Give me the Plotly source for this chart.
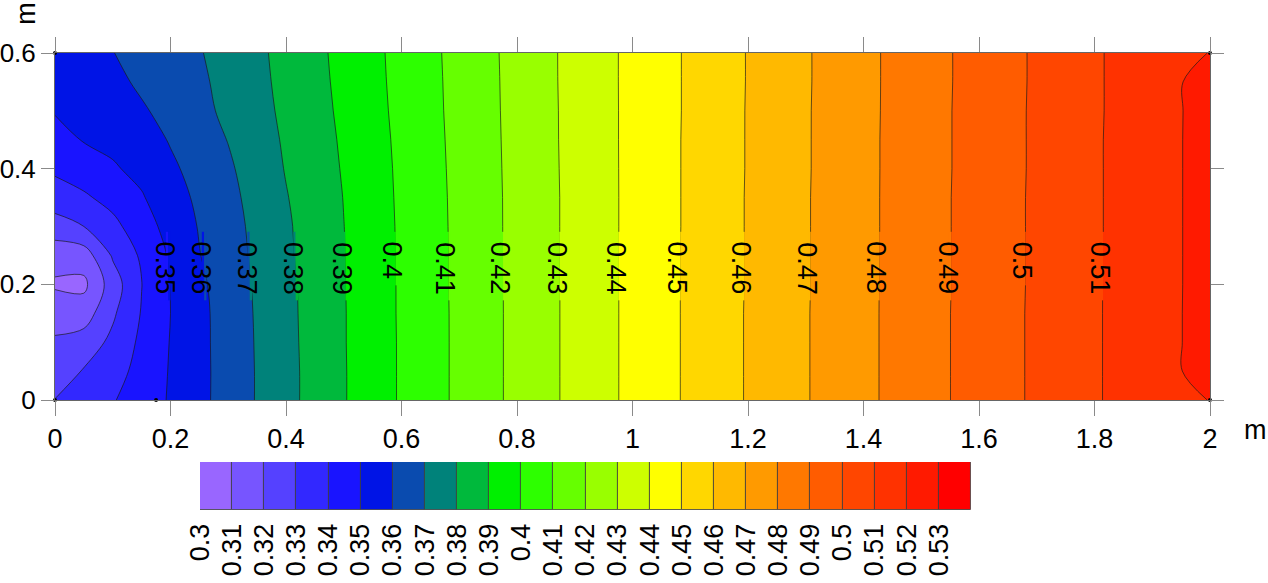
import plotly.graph_objects as go
import numpy as np

FONT = 'Liberation Sans, Arial, sans-serif'

# grid positions (m)
x_m = [0, 0.05, 0.1, 0.15, 0.2, 0.25, 0.3, 0.4, 0.5, 0.6, 0.7, 0.8, 0.9,
       1.0, 1.1, 1.2, 1.3, 1.4, 1.5, 1.6, 1.7, 1.8, 1.9, 2.0]
y_m = [0, 0.05, 0.1, 0.15, 0.2, 0.25, 0.3, 0.35, 0.4, 0.45, 0.5, 0.55, 0.6]

# values, one list per x position, from y=0 up to y=0.6
z_cols = [
    [0.3302, 0.3257, 0.3214, 0.3154, 0.3088, 0.3135, 0.3259, 0.3350, 0.3418, 0.3462, 0.3507, 0.3530, 0.3550],
    [0.3347, 0.3306, 0.3245, 0.3150, 0.3078, 0.3150, 0.3300, 0.3386, 0.3449, 0.3506, 0.3545, 0.3562, 0.3575],
    [0.3393, 0.3358, 0.3323, 0.3285, 0.3251, 0.3311, 0.3373, 0.3432, 0.3490, 0.3522, 0.3548, 0.3574, 0.3598],
    [0.3450, 0.3435, 0.3421, 0.3406, 0.3398, 0.3415, 0.3455, 0.3492, 0.3525, 0.3556, 0.3588, 0.3617, 0.3629],
    [0.3509, 0.3507, 0.3504, 0.3500, 0.3503, 0.3513, 0.3535, 0.3557, 0.3583, 0.3607, 0.3632, 0.3651, 0.3662],
    [0.3574, 0.3573, 0.3574, 0.3574, 0.3581, 0.3597, 0.3606, 0.3619, 0.3634, 0.3655, 0.3675, 0.3683, 0.3694],
    [0.3641, 0.3641, 0.3642, 0.3644, 0.3649, 0.3656, 0.3663, 0.3673, 0.3686, 0.3703, 0.3720, 0.3730, 0.3736],
    [0.3771, 0.3771, 0.3773, 0.3775, 0.3777, 0.3784, 0.3787, 0.3795, 0.3805, 0.3812, 0.3819, 0.3824, 0.3828],
    [0.3894, 0.3894, 0.3895, 0.3895, 0.3896, 0.3897, 0.3899, 0.3902, 0.3907, 0.3912, 0.3918, 0.3923, 0.3927],
    [0.4010, 0.4010, 0.4010, 0.4011, 0.4011, 0.4012, 0.4013, 0.4015, 0.4017, 0.4020, 0.4024, 0.4027, 0.4029],
    [0.4119, 0.4119, 0.4119, 0.4119, 0.4120, 0.4120, 0.4121, 0.4122, 0.4124, 0.4126, 0.4128, 0.4129, 0.4131],
    [0.4225, 0.4225, 0.4225, 0.4225, 0.4225, 0.4226, 0.4226, 0.4226, 0.4227, 0.4228, 0.4229, 0.4230, 0.4231],
    [0.4326, 0.4326, 0.4326, 0.4326, 0.4326, 0.4326, 0.4326, 0.4326, 0.4327, 0.4328, 0.4328, 0.4329, 0.4329],
    [0.4423, 0.4423, 0.4423, 0.4423, 0.4423, 0.4423, 0.4423, 0.4423, 0.4423, 0.4423, 0.4423, 0.4423, 0.4423],
    [0.4516, 0.4516, 0.4516, 0.4516, 0.4516, 0.4516, 0.4515, 0.4515, 0.4515, 0.4515, 0.4514, 0.4514, 0.4514],
    [0.4607, 0.4607, 0.4607, 0.4607, 0.4606, 0.4606, 0.4606, 0.4606, 0.4605, 0.4605, 0.4605, 0.4604, 0.4604],
    [0.4694, 0.4694, 0.4694, 0.4694, 0.4693, 0.4693, 0.4693, 0.4693, 0.4692, 0.4692, 0.4692, 0.4691, 0.4691],
    [0.4778, 0.4778, 0.4778, 0.4778, 0.4778, 0.4777, 0.4777, 0.4777, 0.4777, 0.4777, 0.4776, 0.4776, 0.4776],
    [0.4860, 0.4860, 0.4860, 0.4860, 0.4859, 0.4859, 0.4859, 0.4859, 0.4858, 0.4858, 0.4858, 0.4857, 0.4857],
    [0.4939, 0.4939, 0.4939, 0.4939, 0.4938, 0.4938, 0.4938, 0.4938, 0.4937, 0.4937, 0.4937, 0.4936, 0.4936],
    [0.5016, 0.5016, 0.5016, 0.5016, 0.5015, 0.5015, 0.5015, 0.5015, 0.5014, 0.5014, 0.5014, 0.5013, 0.5013],
    [0.5090, 0.5090, 0.5090, 0.5090, 0.5090, 0.5089, 0.5089, 0.5089, 0.5089, 0.5089, 0.5088, 0.5088, 0.5088],
    [0.5162, 0.5162, 0.5162, 0.5162, 0.5161, 0.5161, 0.5161, 0.5161, 0.5161, 0.5161, 0.5160, 0.5160, 0.5160],
    [0.5202, 0.5235, 0.5235, 0.5235, 0.5235, 0.5235, 0.5235, 0.5235, 0.5235, 0.5235, 0.5235, 0.5235, 0.5202],
]

# colour key: lower edge of each class and its colour
bin_start = [0.30, 0.31, 0.32, 0.33, 0.34, 0.35, 0.36, 0.37, 0.38, 0.39, 0.40, 0.41,
             0.42, 0.43, 0.44, 0.45, 0.46, 0.47, 0.48, 0.49, 0.50, 0.51, 0.52, 0.53]
bin_colors = ['#9966FF', '#7755FF', '#5541FF', '#3228FF', '#1914FF', '#0014E6',
              '#0A4BAF', '#00827A', '#00B93C', '#00F000', '#2DFF00', '#66FF00',
              '#99FF00', '#CDFF00', '#FFFF00', '#FFD700', '#FFB900', '#FF9A00',
              '#FF7800', '#FF5C00', '#FF4600', '#FF3200', '#FF1A00', '#FF0000']

# contour levels that carry a label on the map
label_levels = [0.35, 0.36, 0.37, 0.38, 0.39, 0.40, 0.41, 0.42, 0.43, 0.44,
                0.45, 0.46, 0.47, 0.48, 0.49, 0.50, 0.51]

# sample posts visible as small dots
post_x = [0, 0, 0.175, 2, 2]
post_y = [0.6, 0, 0, 0.6, 0]

z = np.array(z_cols).T
x_arr = np.array(x_m)

fig = go.Figure()
fig.add_trace(go.Contour(
    x=x_m, y=y_m, z=z,
    autocontour=False,
    contours=dict(start=0.31, end=0.53, size=0.01, coloring='fill', showlines=True),
    colorscale=[[k / 23, c] for k, c in enumerate(bin_colors)],
    line=dict(color='rgba(25,25,25,0.85)', width=0.8, smoothing=1),
    showscale=False, hoverinfo='skip'))

fig.add_trace(go.Scatter(
    x=post_x, y=post_y, mode='markers',
    marker=dict(size=4, color='black'),
    cliponaxis=False, showlegend=False, hoverinfo='skip'))

# colour key drawn as a strip of cells
fig.add_trace(go.Bar(
    x=bin_start, y=[1] * len(bin_start), width=0.01, offset=0,
    marker=dict(color=bin_colors, line=dict(color='rgba(60,60,60,0.8)', width=1)),
    xaxis='x2', yaxis='y2', showlegend=False, hoverinfo='skip'))

# labels on the contour lines, with the line hidden under the text
PX_PER_Y = 347 / 0.6
label_top = 0.277
shapes = []
annotations = []
for lv in label_levels:
    xa = np.interp(lv, z[4, 3:], x_arr[3:])
    xb = np.interp(lv, z[5, 3:], x_arr[3:])
    xc = (xa + xb) / 2
    txt = '{:g}'.format(lv)
    tlen = 27 * (0.556 * (len(txt) - 1) + 0.278)
    y1 = label_top + 8 / PX_PER_Y
    y0 = label_top - (tlen + 8) / PX_PER_Y
    k = bin_start.index(lv)
    d = 0.004
    shapes.append(dict(type='rect', xref='x', yref='y', x0=xc - d, x1=xc, y0=y0, y1=y1,
                       fillcolor=bin_colors[k - 1], line=dict(width=0), layer='above'))
    shapes.append(dict(type='rect', xref='x', yref='y', x0=xc, x1=xc + d, y0=y0, y1=y1,
                       fillcolor=bin_colors[k], line=dict(width=0), layer='above'))
    annotations.append(dict(x=xc - 0.006, y=label_top, xref='x', yref='y', text=txt,
                            textangle=90, showarrow=False, xanchor='center', yanchor='top',
                            font=dict(family=FONT, size=27, color='black')))

annotations.append(dict(x=-0.025, y=1.086, xref='paper', yref='paper', text='m',
                        textangle=-90, showarrow=False, xanchor='center', yanchor='middle',
                        font=dict(family=FONT, size=27, color='black')))
annotations.append(dict(x=1.039, y=0.175, xref='paper', yref='paper', text='m',
                        showarrow=False, xanchor='center', yanchor='middle',
                        font=dict(family=FONT, size=27, color='black')))

axis_style = dict(ticks='outside', tickcolor='#8a8a8a', tickwidth=1,
                  showline=True, linecolor='#666666', linewidth=1, mirror='ticks',
                  showgrid=False, zeroline=False, automargin=False)

fig.update_layout(
    width=1268, height=583,
    margin=dict(l=55, r=58, t=53, b=73, autoexpand=False),
    paper_bgcolor='white', plot_bgcolor='white',
    font=dict(family=FONT, color='black'),
    showlegend=False, bargap=0,
    xaxis=dict(domain=[0, 1], anchor='y', range=[0, 2], tick0=0, dtick=0.2, ticklen=15,
               tickfont=dict(family=FONT, size=27, color='black'), **axis_style),
    yaxis=dict(domain=[0.2407, 1], anchor='x', range=[0, 0.6], tick0=0, dtick=0.2, ticklen=13,
               tickfont=dict(family=FONT, size=26, color='black'), **axis_style),
    xaxis2=dict(domain=[0.1255, 0.7931], anchor='y2', range=[0.30, 0.54],
                tickvals=bin_start, ticktext=['{:g}'.format(b) for b in bin_start],
                tickangle=-90, ticks='outside', ticklen=2, tickcolor='rgba(0,0,0,0)',
                showgrid=False, zeroline=False, showline=False, automargin=False,
                tickfont=dict(family=FONT, size=27, color='black')),
    yaxis2=dict(domain=[0, 0.105], anchor='x2', range=[0, 1], visible=False,
                automargin=False),
    shapes=shapes,
    annotations=annotations,
)

# drop the page's default body margin so the figure sits at the window's corner
fig.write_html('out.html', config={'displayModeBar': False},
               post_script="document.body.style.margin='0px';")
